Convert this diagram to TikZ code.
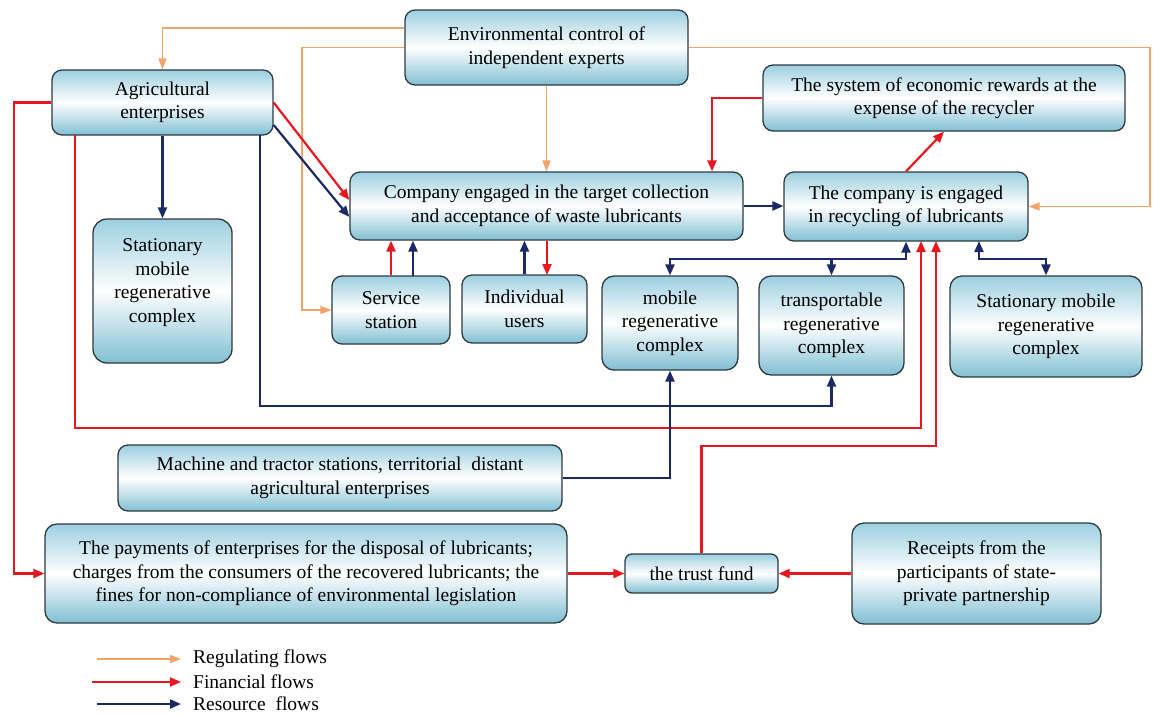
\documentclass[tikz,border=0pt]{standalone}
\usepackage{fontspec}
\setmainfont{Liberation Serif}
\usetikzlibrary{arrows.meta,calc}
\definecolor{regc}{HTML}{F2A468}
\definecolor{finc}{HTML}{E8161E}
\definecolor{resc}{HTML}{1B2A66}
\definecolor{boxtop}{HTML}{9CCFE0}
\definecolor{boxbot}{HTML}{80BFD3}
\definecolor{boxline}{HTML}{2E3A40}
\begin{document}
\begin{tikzpicture}[x=1pt,y=-1pt,
  box/.style={draw=boxline, line width=1.3pt, rounded corners=10pt,
    top color=boxtop, bottom color=boxbot, middle color=white,
    align=center, inner sep=2pt, font=\fontsize{19.5}{23.5}\selectfont},
  wh/.style 2 args={minimum width=#1pt, minimum height=#2pt},
  reg/.style={draw=regc, line width=1.6pt, -{Triangle[length=11pt,width=8pt]}},
  fin/.style={draw=finc, line width=2.2pt, -{Triangle[length=11pt,width=9pt]}},
  res/.style={draw=resc, line width=2.2pt, -{Triangle[length=11pt,width=9pt]}},
  legtext/.style={anchor=west, inner sep=3pt, font=\fontsize{19.5}{23.5}\selectfont}
]
\fill[white] (0,0) rectangle (1153,713);
\useasboundingbox (0,0) rectangle (1153,713);

% boxes
\node[box, wh={283}{75}] (env) at (546.5,47.5) {Environmental control of\\independent experts};
\node[box, wh={221}{65}] (agri) at (162.5,102.5) {Agricultural\\enterprises};
\node[box, wh={139}{144}, rounded corners=14pt] (statL) at (162.5,291) {Stationary\\mobile\\regenerative\\complex\\[-3pt]};
\node[box, wh={393}{68}] (coll) at (546.5,206) {Company engaged in the target collection\\and acceptance of waste lubricants};
\node[box, wh={362}{66}] (rew) at (944,98) {The system of economic rewards at the\\expense of the recycler};
\node[box, wh={244}{69}] (rec) at (906,206.5) {The company is engaged\\in recycling of lubricants};
\node[box, wh={118}{68}] (serv) at (391,310) {Service\\station};
\node[box, wh={125}{68}] (users) at (524.5,309) {Individual\\users};
\node[box, wh={136}{94}, rounded corners=12pt] (mob) at (670,323) {mobile\\regenerative\\complex};
\node[box, wh={145}{99}, rounded corners=12pt] (trans) at (831.5,325.5) {transportable\\regenerative\\complex};
\node[box, wh={192}{101}, rounded corners=12pt] (statR) at (1046,326.5) {Stationary mobile\\regenerative\\complex};
\node[box, wh={444}{66}] (mach) at (340,478) {Machine and tractor stations, territorial\ \ distant\\agricultural enterprises};
\node[box, wh={522}{99}, rounded corners=12pt] (pay) at (306,573.5) {The payments of enterprises for the disposal of lubricants;\\charges from the consumers of the recovered lubricants; the\\fines for non-compliance of environmental legislation};
\node[box, wh={153}{39}, rounded corners=7pt] (trust) at (701.5,573.5) {the trust fund};
\node[box, wh={249}{101}, rounded corners=12pt] (rcpt) at (976.5,573.5) {Receipts from the\\participants of state-\\private partnership};

% helper coordinates
\coordinate (oL) at (302,47.5);
\coordinate (oR) at (1150,47.5);
\coordinate (fL) at (14,102.5);
\coordinate (aR) at (75,135);
\coordinate (aB) at (260,135);
\coordinate (s2) at (413,276);
\coordinate (u2) at (547,275);
\coordinate (rwC) at (712,98);
\coordinate (r1) at (921,241);
\coordinate (r2) at (936,241);
\coordinate (r3) at (979,241);
\coordinate (jL) at (906,259);
\coordinate (jR) at (1046,259);

% regulating flows
\draw[reg] ([yshift=19.5pt]env.west) -| (agri.north);
\draw[reg] (env.west) -- (oL) |- (serv.west);
\draw[reg] (env.east) -- (oR) |- (rec.east);
\draw[reg] (env.south) -- (env.south |- coll.north);

% financial flows
\draw[fin] (agri.west) -- (fL) |- (pay.west);
\draw[fin] (aR) -- ++(0,293) -| (r1);
\draw[fin] (agri.east) -- ([yshift=6pt]coll.west);
\draw[fin] (serv.north) -- (serv.north |- coll.south);
\draw[fin] (u2 |- coll.south) -- (u2);
\draw[fin] (rew.west) -| (rwC |- coll.north);
\draw[fin] (rec.north) -- (rew.south);
\draw[fin] (trust.north) -- ++(0,-107) -| (r2);
\draw[fin] (pay.east) -- (trust.west);
\draw[fin] (rcpt.west) -- (trust.east);

% resource flows
\draw[res] ([yshift=-22.5pt]agri.east) -- ([yshift=-11pt]coll.west);
\draw[res] (agri.south) -- (statL.north);
\draw[res] (aB) -- ++(0,271) -| (trans.south);
\draw[res] (s2) -- (s2 |- coll.south);
\draw[res] (users.north) -- (users.north |- coll.south);
\draw[res] (coll.east) -- (coll.east -| rec.west);
\draw[res] (mach.east) -| (mob.south);
\draw[res, {Triangle[length=11pt,width=9pt]}-{Triangle[length=11pt,width=9pt]}] (mob.north) |- (jL) -- (rec.south);
\draw[res] (trans.north |- jL) -- (trans.north);
\draw[res, {Triangle[length=11pt,width=9pt]}-{Triangle[length=11pt,width=9pt]}] (r3) |- (jR) -- (statR.north);

% legend
\node[legtext] (l1) at (190,659) {Regulating flows};
\node[legtext] (l2) at (190,682) {Financial flows};
\node[legtext] (l3) at (190,704) {Resource\ \ flows};
\coordinate (l1s) at (97,659);
\coordinate (l2s) at (92,682);
\coordinate (l3s) at (97,704);
\draw[reg, shorten >=9pt] (l1s) -- (l1.west);
\draw[fin, shorten >=9pt] (l2s) -- (l2.west);
\draw[res, shorten >=9pt] (l3s) -- (l3.west);
\end{tikzpicture}
\end{document}
